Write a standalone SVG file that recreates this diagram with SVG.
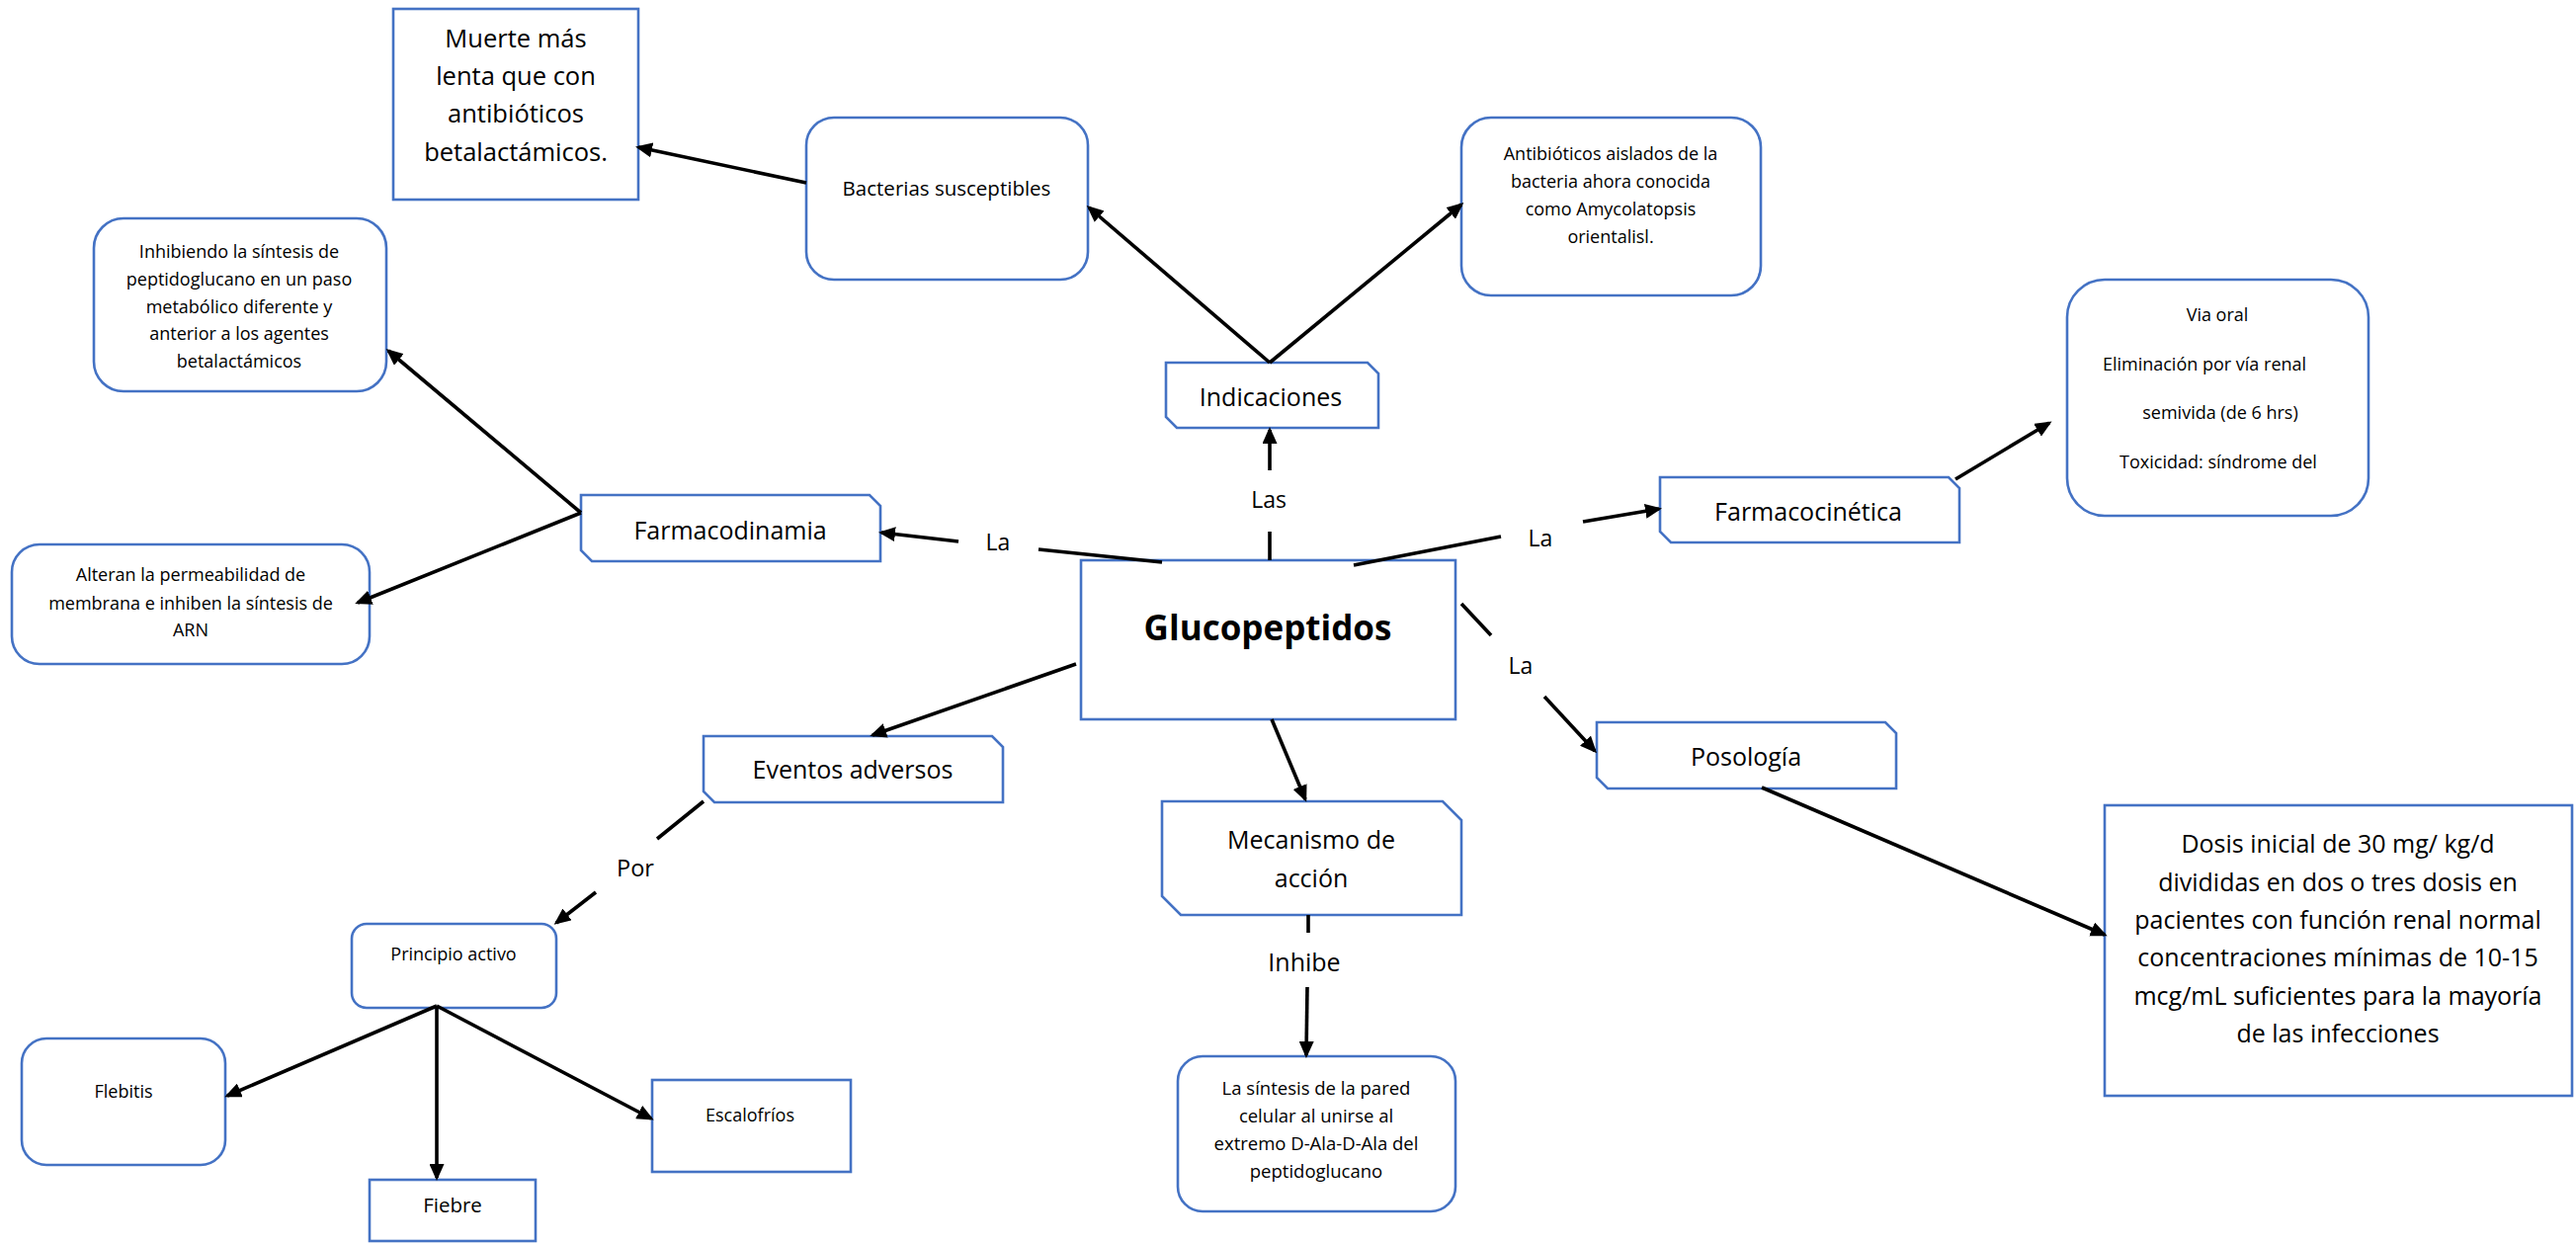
<svg xmlns="http://www.w3.org/2000/svg" width="2607" height="1258" viewBox="0 0 2607 1258">
<style>
.n{fill:#fff;stroke:#4472C4;stroke-width:2.6}
.t{font-family:"Open Sans","Liberation Sans",sans-serif;fill:#000;text-anchor:middle}
.c{stroke:#000;stroke-width:3.6;fill:none}
.a{marker-end:url(#ah)}
</style>
<defs>
<marker id="ah" markerUnits="userSpaceOnUse" markerWidth="17" markerHeight="15" refX="14" refY="7.5" orient="auto">
<path d="M0,0 L17,7.5 L0,15 z" fill="#000"/>
</marker>
</defs>
<rect width="2607" height="1258" fill="#fff"/>
<g id="n-muerte">
<rect class="n" x="398" y="9" width="248" height="193"/>
<text class="t" font-size="25.5"><tspan x="522" y="48">Muerte más</tspan><tspan x="522" y="86">lenta que con</tspan><tspan x="522" y="124">antibióticos</tspan><tspan x="522" y="163">betalactámicos.</tspan></text>
</g>
<g id="n-bacterias">
<rect class="n" x="816" y="119" width="285" height="164" rx="28"/>
<text class="t" x="958" y="198" font-size="20.5">Bacterias susceptibles</text>
</g>
<g id="n-antibioticos">
<rect class="n" x="1479" y="119" width="303" height="180" rx="30"/>
<text class="t" font-size="18"><tspan x="1630" y="162">Antibióticos aislados de la</tspan><tspan x="1630" y="190">bacteria ahora conocida</tspan><tspan x="1630" y="218">como Amycolatopsis</tspan><tspan x="1630" y="246">orientalisl.</tspan></text>
</g>
<g id="n-indicaciones">
<path class="n" d="M1180,367 H1384 L1395,378 V433 H1191 L1180,422 Z"/>
<text class="t" x="1286" y="411" font-size="25">Indicaciones</text>
</g>
<g id="n-inhibiendo">
<rect class="n" x="95" y="221" width="296" height="175" rx="30"/>
<text class="t" font-size="18"><tspan x="242" y="261">Inhibiendo la síntesis de</tspan><tspan x="242" y="289">peptidoglucano en un paso</tspan><tspan x="242" y="317">metabólico diferente y</tspan><tspan x="242" y="344">anterior a los agentes</tspan><tspan x="242" y="372">betalactámicos</tspan></text>
</g>
<g id="n-alteran">
<rect class="n" x="12" y="551" width="362" height="121" rx="28"/>
<text class="t" font-size="18"><tspan x="193" y="588">Alteran la permeabilidad de</tspan><tspan x="193" y="617">membrana e inhiben la síntesis de</tspan><tspan x="193" y="644">ARN</tspan></text>
</g>
<g id="n-farmacodinamia">
<path class="n" d="M588,501 H880 L891,512 V568 H599 L588,557 Z"/>
<text class="t" x="739" y="546" font-size="25">Farmacodinamia</text>
</g>
<g id="n-glucopeptidos">
<rect class="n" x="1094" y="567" width="379" height="161"/>
<text class="t" x="1283" y="648" font-size="35" font-weight="bold">Glucopeptidos</text>
</g>
<g id="n-farmacocinetica">
<path class="n" d="M1680,483 H1972 L1983,494 V549 H1691 L1680,538 Z"/>
<text class="t" x="1830" y="527" font-size="25">Farmacocinética</text>
</g>
<g id="n-viaoral">
<rect class="n" x="2092" y="283" width="305" height="239" rx="38"/>
<text class="t" font-size="18"><tspan x="2244" y="325">Via oral</tspan><tspan x="2231" y="375">Eliminación por vía renal</tspan><tspan x="2247" y="424">semivida (de 6 hrs)</tspan><tspan x="2245" y="474">Toxicidad: síndrome del</tspan></text>
</g>
<g id="n-posologia">
<path class="n" d="M1616,731 H1908 L1919,742 V798 H1627 L1616,787 Z"/>
<text class="t" x="1767" y="775" font-size="25">Posología</text>
</g>
<g id="n-dosis">
<rect class="n" x="2130" y="815" width="473" height="294"/>
<text class="t" font-size="25"><tspan x="2366" y="863">Dosis inicial de 30 mg/ kg/d</tspan><tspan x="2366" y="902">divididas en dos o tres dosis en</tspan><tspan x="2366" y="940">pacientes con función renal normal</tspan><tspan x="2366" y="978">concentraciones mínimas de 10-15</tspan><tspan x="2366" y="1017">mcg/mL suficientes para la mayoría</tspan><tspan x="2366" y="1055">de las infecciones</tspan></text>
</g>
<g id="n-mecanismo">
<path class="n" d="M1176,811 H1460 L1479,830 V926 H1195 L1176,907 Z"/>
<text class="t" font-size="25"><tspan x="1327" y="859">Mecanismo de</tspan><tspan x="1327" y="898">acción</tspan></text>
</g>
<g id="n-sintesis">
<rect class="n" x="1192" y="1069" width="281" height="157" rx="25"/>
<text class="t" font-size="18.5"><tspan x="1332" y="1108">La síntesis de la pared</tspan><tspan x="1332" y="1136">celular al unirse al</tspan><tspan x="1332" y="1164">extremo D-Ala-D-Ala del</tspan><tspan x="1332" y="1192">peptidoglucano</tspan></text>
</g>
<g id="n-eventos">
<path class="n" d="M712,745 H1004 L1015,756 V812 H723 L712,801 Z"/>
<text class="t" x="863" y="788" font-size="25">Eventos adversos</text>
</g>
<g id="n-principio">
<rect class="n" x="356" y="935" width="207" height="85" rx="15"/>
<text class="t" x="459" y="972" font-size="18">Principio activo</text>
</g>
<g id="n-flebitis">
<rect class="n" x="22" y="1051" width="206" height="128" rx="25"/>
<text class="t" x="125" y="1111" font-size="18">Flebitis</text>
</g>
<g id="n-escalofrios">
<rect class="n" x="660" y="1093" width="201" height="93"/>
<text class="t" x="759" y="1135" font-size="18">Escalofríos</text>
</g>
<g id="n-fiebre">
<rect class="n" x="374" y="1194" width="168" height="62"/>
<text class="t" x="458" y="1227" font-size="20.5">Fiebre</text>
</g>
<g id="connectors">
<line class="c a" x1="816" y1="185" x2="646" y2="149"/>
<line class="c a" x1="1285" y1="367" x2="1102" y2="210"/>
<line class="c a" x1="1285" y1="367" x2="1479" y2="207"/>
<line class="c" x1="1285" y1="567" x2="1285" y2="538"/>
<line class="c a" x1="1285" y1="476" x2="1285" y2="435"/>
<line class="c" x1="1176" y1="569" x2="1051" y2="556"/>
<line class="c a" x1="970" y1="548" x2="892" y2="539"/>
<line class="c a" x1="588" y1="519" x2="393" y2="355"/>
<line class="c a" x1="588" y1="519" x2="362" y2="610"/>
<line class="c" x1="1370" y1="572" x2="1519" y2="543"/>
<line class="c a" x1="1602" y1="528" x2="1679" y2="515"/>
<line class="c a" x1="1979" y1="485" x2="2074" y2="428"/>
<line class="c" x1="1479" y1="611" x2="1509" y2="643"/>
<line class="c a" x1="1563" y1="705" x2="1614" y2="760"/>
<line class="c a" x1="1783" y1="797" x2="2130" y2="946"/>
<line class="c a" x1="1287" y1="728" x2="1321" y2="809"/>
<line class="c" x1="1324" y1="926" x2="1324" y2="944"/>
<line class="c a" x1="1323" y1="999" x2="1322" y2="1068"/>
<line class="c a" x1="1089" y1="672" x2="883" y2="744"/>
<line class="c" x1="712" y1="811" x2="665" y2="849"/>
<line class="c a" x1="603" y1="903" x2="563" y2="934"/>
<line class="c a" x1="442" y1="1018" x2="230" y2="1109"/>
<line class="c a" x1="442" y1="1018" x2="442" y2="1192"/>
<line class="c a" x1="442" y1="1018" x2="659" y2="1132"/>
<text class="t" x="1284" y="514" font-size="23">Las</text>
<text class="t" x="1010" y="557" font-size="23">La</text>
<text class="t" x="1559" y="553" font-size="23">La</text>
<text class="t" x="1539" y="682" font-size="23">La</text>
<text class="t" x="1320" y="983" font-size="25">Inhibe</text>
<text class="t" x="643" y="887" font-size="23.5">Por</text>
</g>
</svg>
